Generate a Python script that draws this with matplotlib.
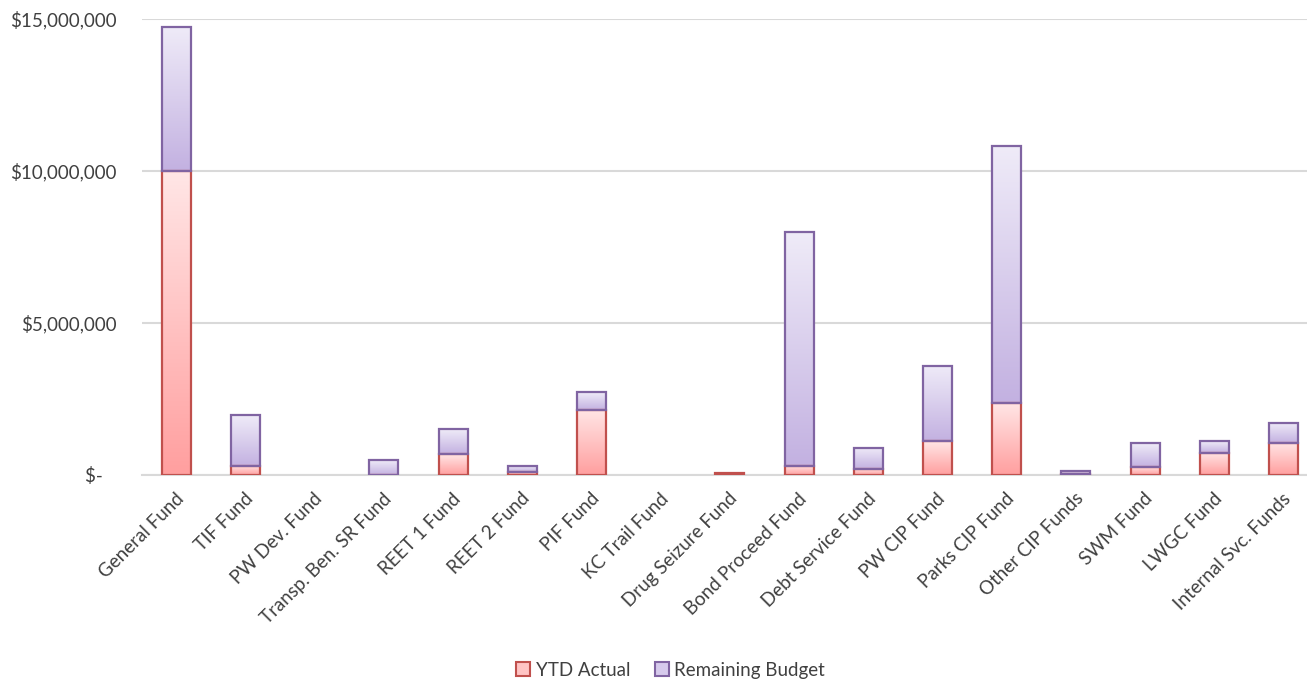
import numpy as np
import matplotlib
matplotlib.use('Agg')
import matplotlib.pyplot as plt
from matplotlib.colors import LinearSegmentedColormap
from matplotlib.patches import Patch
from matplotlib.ticker import FuncFormatter
from matplotlib.transforms import ScaledTranslation

plt.rcParams['font.family'] = ['Lato', 'DejaVu Sans']

# fund names on the x axis
funds = ['General Fund', 'TIF Fund', 'PW Dev. Fund', 'Transp. Ben. SR Fund',
         'REET 1 Fund', 'REET 2 Fund', 'PIF Fund', 'KC Trail Fund',
         'Drug Seizure Fund', 'Bond Proceed Fund', 'Debt Service Fund',
         'PW CIP Fund', 'Parks CIP Fund', 'Other CIP Funds', 'SWM Fund',
         'LWGC Fund', 'Internal Svc. Funds']

# values in dollars
ytd_actual = np.array([10.00, 0.30, 0.0, 0.01, 0.69, 0.10, 2.14, 0.0, 0.05,
                       0.31, 0.20, 1.11, 2.38, 0.02, 0.27, 0.73, 1.06]) * 1e6
remaining = np.array([4.75, 1.67, 0.0, 0.48, 0.81, 0.21, 0.59, 0.0, 0.0,
                      7.68, 0.70, 2.48, 8.44, 0.11, 0.77, 0.39, 0.66]) * 1e6

red_edge, red_bot, red_top = '#C0504D', '#FF9F9F', '#FFE6E6'
pur_edge, pur_bot, pur_top = '#8064A2', '#C3B1E1', '#EFEBF8'
txt_col = '#404040'


def gradient_fill(ax, bars, c_bot, c_top):
    # paint each bar with its own vertical gradient (Excel style)
    cmap = LinearSegmentedColormap.from_list('g', [c_bot, c_top])
    grad = np.linspace(0, 1, 128)[:, None]
    for p in bars.patches:
        h = p.get_height()
        if h <= 0:
            p.set_visible(False)
            continue
        x0, y0, w = p.get_x(), p.get_y(), p.get_width()
        ax.imshow(grad, extent=[x0, x0 + w, y0, y0 + h], origin='lower',
                  cmap=cmap, aspect='auto', zorder=2, interpolation='bilinear')


fig = plt.figure(figsize=(13.07, 6.81), dpi=100)
ax = fig.add_axes([0.1084, 0.3025, 0.8916, 0.6696])

x = np.arange(len(funds))
w = 0.42
b1 = ax.bar(x, ytd_actual, w, facecolor='none', edgecolor=red_edge, lw=1.6, zorder=3)
b2 = ax.bar(x, remaining, w, bottom=ytd_actual, facecolor='none', edgecolor=pur_edge,
            lw=1.6, zorder=3)
gradient_fill(ax, b1, red_bot, red_top)
gradient_fill(ax, b2, pur_bot, pur_top)

ax.set_xlim(-0.5, 16.34)
ax.set_ylim(0, 15e6)
ax.set_yticks([0, 5e6, 10e6, 15e6])


def money(v, pos):
    if v == 0:
        return '$-   '
    return '${:,.0f}'.format(v)


ax.yaxis.set_major_formatter(FuncFormatter(money))
ax.yaxis.grid(True, color='#D9D9D9', lw=1.5, zorder=0)
ax.set_axisbelow(True)
for s in ['top', 'right', 'left']:
    ax.spines[s].set_visible(False)
ax.spines['bottom'].set_color('#D9D9D9')
ax.spines['bottom'].set_linewidth(1.5)

ax.tick_params(axis='y', length=0, pad=18, labelsize=13.5, labelcolor=txt_col)
ax.tick_params(axis='x', length=0, pad=15, labelsize=13.5, labelcolor=txt_col)
ax.set_xticks(x)
ax.set_xticklabels(funds, rotation=45, ha='right', va='center', rotation_mode='anchor')
shift = ScaledTranslation(5 / 100, 0, fig.dpi_scale_trans)
for lab in ax.get_xticklabels():
    lab.set_transform(lab.get_transform() + shift)

handles = [Patch(facecolor='#FFC4C4', edgecolor=red_edge, lw=1.5, label='YTD Actual'),
           Patch(facecolor='#D6CAEC', edgecolor=pur_edge, lw=1.5, label='Remaining Budget')]
fig.legend(handles=handles, loc='center', bbox_to_anchor=(0.513, 0.016), ncol=2,
           frameon=False, fontsize=13.5, handlelength=0.75, handleheight=0.75,
           handletextpad=0.3, columnspacing=1.3, labelcolor=txt_col)

fig.savefig('out.png', dpi=100)
